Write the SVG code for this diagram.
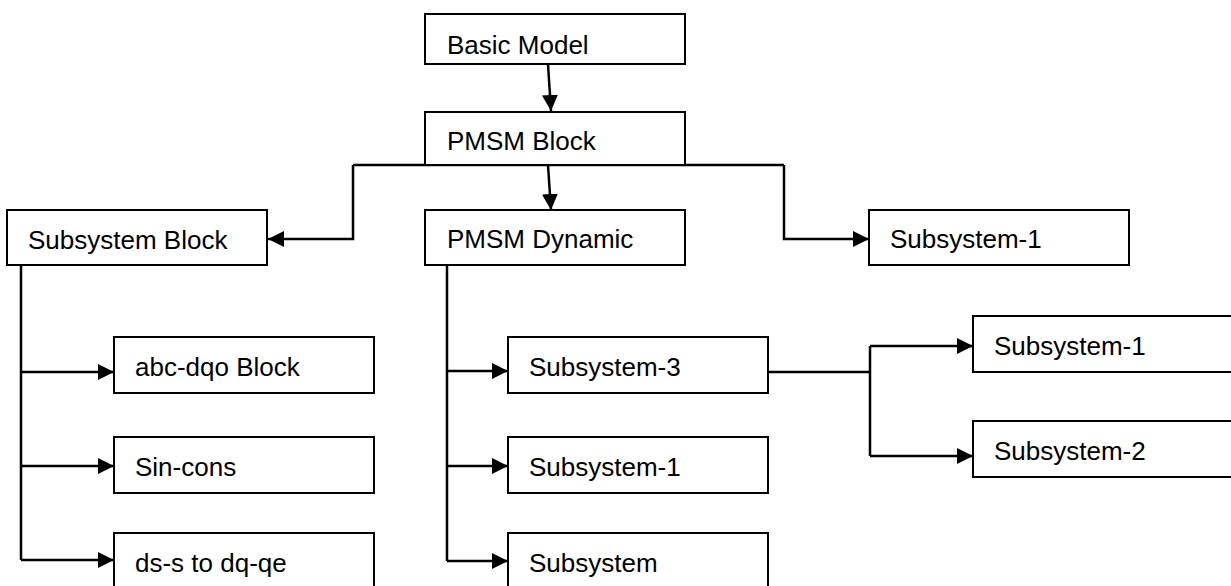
<svg xmlns="http://www.w3.org/2000/svg" width="1231" height="586" viewBox="0 0 1231 586">
<style>
.box{fill:#fff;stroke:#000;stroke-width:2}
.lbl{font-family:"Liberation Sans",Arial,sans-serif;font-size:26px;fill:#000}
.c{fill:none;stroke:#000;stroke-width:2.5}
.a{marker-end:url(#ah)}
</style>
<defs>
<marker id="ah" markerUnits="userSpaceOnUse" markerWidth="18" markerHeight="18" refX="16" refY="8" orient="auto">
<path d="M0,0 L16,8 L0,16 z" fill="#000"/>
</marker>
</defs>
<rect width="1231" height="586" fill="#fff"/>
<g id="connectors">
<path class="c a" d="M548,64 L551,111"/>
<path class="c a" d="M548,165 L551,210"/>
<path class="c" d="M353,165 H784"/>
<path class="c a" d="M353,165 V239 H268"/>
<path class="c a" d="M784,165 V239 H869"/>
<path class="c" d="M21,265 V560"/>
<path class="c a" d="M21,372 H114"/>
<path class="c a" d="M21,466 H114"/>
<path class="c a" d="M21,560 H114"/>
<path class="c" d="M447,265 V561"/>
<path class="c a" d="M447,371 H508"/>
<path class="c a" d="M447,466 H508"/>
<path class="c a" d="M447,561 H508"/>
<path class="c" d="M768,372 H870 M870,346 V456"/>
<path class="c a" d="M870,346 H973"/>
<path class="c a" d="M870,456 H973"/>
</g>
<g id="basic-model"><rect class="box" x="425" y="14" width="260" height="50"/><text class="lbl" x="447" y="54">Basic Model</text></g>
<g id="pmsm-block"><rect class="box" x="425" y="112" width="260" height="53"/><text class="lbl" x="447" y="150">PMSM Block</text></g>
<g id="pmsm-dynamic"><rect class="box" x="425" y="210" width="260" height="55"/><text class="lbl" x="447" y="248">PMSM Dynamic</text></g>
<g id="subsystem-block"><rect class="box" x="7" y="210" width="260" height="55"/><text class="lbl" x="28" y="249">Subsystem Block</text></g>
<g id="subsystem-1-top"><rect class="box" x="869" y="210" width="260" height="55"/><text class="lbl" x="890" y="248">Subsystem-1</text></g>
<g id="abc-dqo"><rect class="box" x="114" y="337" width="260" height="56"/><text class="lbl" x="135" y="376">abc-dqo Block</text></g>
<g id="sin-cons"><rect class="box" x="114" y="437" width="260" height="56"/><text class="lbl" x="135" y="476">Sin-cons</text></g>
<g id="ds-s"><rect class="box" x="114" y="533" width="260" height="70"/><text class="lbl" x="135" y="572">ds-s to dq-qe</text></g>
<g id="subsystem-3"><rect class="box" x="508" y="337" width="260" height="56"/><text class="lbl" x="529" y="376">Subsystem-3</text></g>
<g id="subsystem-1-mid"><rect class="box" x="508" y="437" width="260" height="56"/><text class="lbl" x="529" y="476">Subsystem-1</text></g>
<g id="subsystem"><rect class="box" x="508" y="533" width="260" height="70"/><text class="lbl" x="529" y="572">Subsystem</text></g>
<g id="subsystem-1-right"><rect class="box" x="973" y="316" width="270" height="56"/><text class="lbl" x="994" y="355">Subsystem-1</text></g>
<g id="subsystem-2-right"><rect class="box" x="973" y="421" width="270" height="56"/><text class="lbl" x="994" y="460">Subsystem-2</text></g>
</svg>
